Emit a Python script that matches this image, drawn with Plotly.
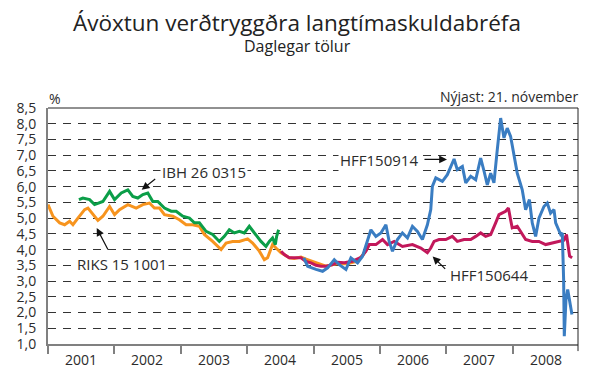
import pandas as pd
import plotly.graph_objects as go

# Daily real yields on indexed long-term bonds, sampled as (fractional year, %) pairs
riks_t = [2001.00, 2001.075, 2001.176, 2001.251, 2001.326, 2001.376, 2001.451, 2001.552, 2001.602,
          2001.677, 2001.752, 2001.827, 2001.928, 2002.003, 2002.078, 2002.203, 2002.329, 2002.429,
          2002.529, 2002.604, 2002.680, 2002.755, 2002.880, 2002.980, 2003.081, 2003.180, 2003.281,
          2003.356, 2003.481, 2003.608, 2003.683, 2003.782, 2003.883, 2004.008, 2004.083, 2004.184,
          2004.259, 2004.308, 2004.383, 2004.434, 2004.510, 2004.559, 2004.634, 2004.709, 2004.810,
          2004.886, 2005.036, 2005.186, 2005.361, 2005.507, 2005.657, 2005.750, 2005.837]
riks_v = [5.43, 5.06, 4.85, 4.79, 4.90, 4.79, 5.00, 5.27, 5.32,
          5.11, 4.93, 5.06, 5.37, 5.11, 5.27, 5.43, 5.32, 5.43,
          5.48, 5.32, 5.32, 5.11, 5.06, 4.95, 4.79, 4.79, 4.74,
          4.48, 4.26, 4.00, 4.21, 4.26, 4.26, 4.34, 4.21, 3.95,
          3.68, 3.74, 4.16, 4.05, 3.90, 3.84, 3.74, 3.72, 3.76,
          3.70, 3.58, 3.47, 3.56, 3.55, 3.63, 3.85, 4.15]

ibh_t = [2001.466, 2001.526, 2001.627, 2001.702, 2001.827, 2001.902, 2001.928, 2002.003, 2002.104,
         2002.203, 2002.278, 2002.353, 2002.429, 2002.504, 2002.579, 2002.654, 2002.755, 2002.856,
         2002.931, 2003.030, 2003.131, 2003.206, 2003.281, 2003.382, 2003.481, 2003.582, 2003.657,
         2003.732, 2003.808, 2003.883, 2003.958, 2004.033, 2004.108, 2004.209, 2004.284, 2004.334,
         2004.383, 2004.424, 2004.444, 2004.474]
ibh_v = [5.59, 5.64, 5.59, 5.43, 5.53, 5.75, 5.85, 5.59, 5.80,
         5.90, 5.69, 5.64, 5.75, 5.80, 5.53, 5.53, 5.32, 5.22,
         5.22, 5.06, 5.00, 4.85, 4.85, 4.58, 4.48, 4.26, 4.42,
         4.63, 4.53, 4.58, 4.53, 4.74, 4.53, 4.26, 4.10, 4.26,
         4.37, 4.16, 4.42, 4.63]

hff44_t = [2004.510, 2004.559, 2004.634, 2004.709, 2004.810, 2004.886, 2004.961, 2005.036, 2005.111,
           2005.186, 2005.286, 2005.361, 2005.462, 2005.586, 2005.713, 2005.788, 2005.838, 2005.938,
           2006.038, 2006.113, 2006.214, 2006.338, 2006.489, 2006.615, 2006.714, 2006.765, 2006.815,
           2006.890, 2006.991, 2007.090, 2007.165, 2007.266, 2007.367, 2007.442, 2007.517, 2007.592,
           2007.668, 2007.743, 2007.793, 2007.893, 2007.935, 2007.968, 2007.992, 2008.068, 2008.118,
           2008.194, 2008.293, 2008.394, 2008.495, 2008.594, 2008.695, 2008.770, 2008.808, 2008.826,
           2008.855, 2008.893]
hff44_v = [3.95, 3.84, 3.74, 3.74, 3.74, 3.62, 3.58, 3.50, 3.47,
           3.47, 3.52, 3.60, 3.58, 3.63, 3.75, 3.95, 4.16, 4.16,
           4.32, 4.16, 4.26, 4.10, 4.16, 4.05, 3.90, 4.05, 4.26,
           4.32, 4.32, 4.42, 4.26, 4.32, 4.32, 4.42, 4.53, 4.42,
           4.48, 4.85, 5.11, 5.22, 5.32, 4.95, 4.69, 4.74, 4.58,
           4.32, 4.26, 4.26, 4.16, 4.21, 4.26, 4.30, 4.48, 4.21,
           3.79, 3.74]

hff14_t = [2004.853, 2004.910, 2005.036, 2005.135, 2005.211, 2005.311, 2005.386, 2005.487, 2005.562,
           2005.662, 2005.737, 2005.778, 2005.812, 2005.863, 2005.938, 2006.014, 2006.089, 2006.138,
           2006.188, 2006.263, 2006.338, 2006.414, 2006.489, 2006.564, 2006.639, 2006.714, 2006.765,
           2006.789, 2006.841, 2006.940, 2007.015, 2007.066, 2007.116, 2007.165, 2007.241, 2007.292,
           2007.367, 2007.442, 2007.517, 2007.568, 2007.617, 2007.668, 2007.717, 2007.767, 2007.818,
           2007.868, 2007.917, 2007.968, 2008.026, 2008.068, 2008.143, 2008.194, 2008.251, 2008.293,
           2008.344, 2008.394, 2008.469, 2008.519, 2008.569, 2008.620, 2008.645, 2008.669, 2008.720,
           2008.745, 2008.765, 2008.775, 2008.800, 2008.826, 2008.860, 2008.890]
hff14_v = [3.74, 3.47, 3.37, 3.31, 3.42, 3.68, 3.52, 3.37, 3.74,
           3.58, 3.79, 4.05, 4.32, 4.63, 4.42, 4.53, 4.79, 4.26,
           3.95, 4.32, 4.53, 4.37, 4.74, 4.58, 4.32, 4.79, 5.27,
           6.01, 6.28, 6.17, 6.38, 6.64, 6.88, 6.54, 6.64, 6.12,
           6.33, 6.22, 6.91, 6.49, 6.06, 6.43, 6.12, 7.17, 8.18,
           7.55, 7.86, 7.60, 6.86, 6.43, 5.90, 5.27, 5.59, 4.85,
           4.42, 5.00, 5.37, 5.48, 5.16, 5.27, 4.85, 4.74, 4.48,
           4.53, 3.05, 1.25, 2.41, 2.73, 2.31, 1.94]

years = [2001, 2002, 2003, 2004, 2005, 2006, 2007, 2008]
year_labels = ["2001", "2002", "2003", "2004", "2005", "2006", "2007", "2008"]

FONT = "Open Sans"
TXT = "#2b2b2b"


def to_dates(yrs):
    out = []
    for y in yrs:
        yr = int(y)
        start, end = pd.Timestamp(yr, 1, 1), pd.Timestamp(yr + 1, 1, 1)
        out.append(start + (end - start) * (y - yr))
    return out


series = [
    ("RIKS 15 1001", riks_t, riks_v, "#F7941E"),
    ("IBH 26 0315", ibh_t, ibh_v, "#0B9E48"),
    ("HFF150644", hff44_t, hff44_v, "#C2185B"),
    ("HFF150914", hff14_t, hff14_v, "#3A7DC2"),
]

fig = go.Figure()
for name, t, v, col in series:
    fig.add_trace(go.Scatter(x=to_dates(t), y=v, mode="lines", name=name,
                             line=dict(color=col, width=3), showlegend=False))

fig.update_layout(
    width=589, height=368,
    margin=dict(l=48, r=11, t=108, b=24, autoexpand=False),
    paper_bgcolor="white", plot_bgcolor="white",
    separators=",.",
    font=dict(family=FONT, size=14, color=TXT),
)

# tick marks on the year boundaries; labels are centred in each year below
fig.update_xaxes(
    type="date",
    range=["2001-01-01", "2008-12-25"],
    tickvals=[pd.Timestamp(y, 1, 1) for y in years],
    showticklabels=False,
    ticks="outside", ticklen=8, tickwidth=1.5, tickcolor="#808080",
    showline=True, linecolor="#808080", linewidth=2,
    showgrid=False, zeroline=False, automargin=False,
)
for y, lab in zip(years, year_labels):
    fig.add_annotation(x=pd.Timestamp(y, 7, 2), xref="x", y=-0.065, yref="paper",
                       text=lab, showarrow=False, xanchor="center", yanchor="middle",
                       font=dict(size=14, color=TXT))

fig.update_yaxes(
    range=[1.0, 8.5],
    tick0=1.0, dtick=0.5, tickformat=".1f",
    ticks="", ticklabelstandoff=7,
    showline=True, linecolor="#808080", linewidth=2,
    showgrid=True, gridcolor="#333333", gridwidth=1, griddash="8px,7px",
    zeroline=False, automargin=False,
    tickfont=dict(size=14, color=TXT),
)

# thin frame on the top and right
fig.add_shape(type="line", xref="paper", yref="paper", x0=0, x1=1, y0=1, y1=1,
              line=dict(color="#222222", width=1))
fig.add_shape(type="line", xref="paper", yref="paper", x0=1, x1=1, y0=-0.03, y1=1,
              line=dict(color="#222222", width=1))

ann = [
    dict(text="Ávöxtun verðtryggðra langtímaskuldabréfa", x=0.47, y=1.364,
         xanchor="center", yanchor="middle", font=dict(size=22.5, color="#222222")),
    dict(text="Daglegar tölur", x=0.47, y=1.262, xanchor="center", yanchor="middle",
         font=dict(size=16, color="#222222")),
    dict(text="%", x=-0.002, y=1.042, xanchor="left", yanchor="middle"),
    dict(text="Nýjast: 21. nóvember", x=1.004, y=1.05, xanchor="right", yanchor="middle"),
    dict(text="IBH 26 0315", x=0.2113, y=0.7294, xanchor="left", yanchor="middle",
         bgcolor="white", font=dict(size=15)),
    dict(text="RIKS 15 1001", x=0.0509, y=0.3404, xanchor="left", yanchor="middle",
         bgcolor="white", font=dict(size=15)),
    dict(text="HFF150914", x=0.5472, y=0.7801, xanchor="left", yanchor="middle",
         bgcolor="white", font=dict(size=15)),
    dict(text="HFF150644", x=0.7547, y=0.2939, xanchor="left", yanchor="middle",
         bgcolor="white", font=dict(size=15)),
]
for a in ann:
    fig.add_annotation(xref="paper", yref="paper", showarrow=False, **a)

# pointer arrows from each label to its line
arrows = [
    (0.1768, 0.6533, 15, -12),
    (0.0919, 0.4913, 12, 23),
    (0.7528, 0.7822, -24, 0),
    (0.7258, 0.3712, 14, 14),
]
for x, y, ax, ay in arrows:
    fig.add_annotation(xref="paper", yref="paper", x=x, y=y, ax=ax, ay=ay, text="",
                       showarrow=True, arrowhead=2, arrowsize=1.3, arrowwidth=1.2,
                       arrowcolor="#111111")

fig.write_html("out.html")
